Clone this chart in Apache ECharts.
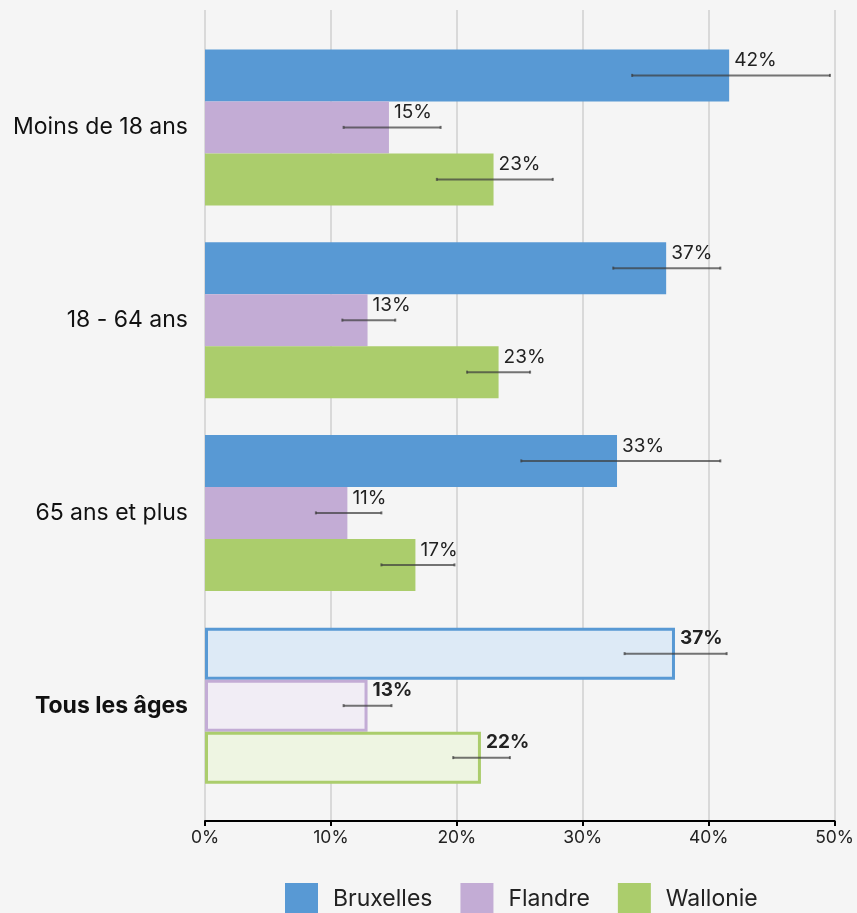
<!DOCTYPE html>
<html><head><meta charset="utf-8">
<script src="https://cdn.jsdelivr.net/npm/echarts@6/dist/echarts.min.js"></script>
<style>html,body{margin:0;padding:0;background:#f5f5f5}#c{width:857px;height:913px}</style>
</head><body><div id="c"></div>
<script>
const categories = ['Moins de 18 ans', '18 - 64 ans', '65 ans et plus', 'Tous les âges'];
const seriesNames = ['Bruxelles', 'Flandre', 'Wallonie'];
const bruxelles = [41.6, 36.6, 32.7, 37.3];
const flandre = [14.6, 12.9, 11.3, 12.9];
const wallonie = [22.9, 23.3, 16.7, 21.9];
const bruxellesLow = [33.9, 32.4, 25.1, 33.3];
const bruxellesHigh = [49.6, 40.9, 40.9, 41.4];
const flandreLow = [11.0, 10.9, 8.8, 11.0];
const flandreHigh = [18.7, 15.1, 14.0, 14.8];
const wallonieLow = [18.4, 20.8, 14.0, 19.7];
const wallonieHigh = [27.6, 25.8, 19.8, 24.2];
const xTicks = [0, 10, 20, 30, 40, 50];

const colors = ['#5899d4', '#c3acd5', '#abcd6c'];
const lightColors = ['#ddeaf6', '#f1edf5', '#eef5e2'];
const FONT = 'Inter';
const BAR = 52;

const values = [bruxelles, flandre, wallonie];
const lows = [bruxellesLow, flandreLow, wallonieLow];
const highs = [bruxellesHigh, flandreHigh, wallonieHigh];

function barSeries(si) {
  return {
    name: seriesNames[si], type: 'bar', xAxisIndex: 1, yAxisIndex: 1,
    barWidth: BAR, barGap: '0%', z: 2,
    itemStyle: { color: colors[si] },
    label: {
      show: true, position: 'right', distance: 5, offset: [0, -15],
      fontFamily: FONT, fontSize: 19, color: '#222',
      formatter: p => Math.round(p.value) + '%'
    },
    data: values[si].map((v, i) => i === categories.length - 1 ? {
      value: v,
      itemStyle: { color: lightColors[si], borderColor: colors[si], borderWidth: 3 },
      label: { fontWeight: 'bold' }
    } : v)
  };
}

function errSeries(si) {
  return {
    type: 'custom', xAxisIndex: 1, yAxisIndex: 1, z: 5, silent: true,
    data: categories.map((c, i) => [i, lows[si][i], highs[si][i]]),
    renderItem: function (params, api) {
      const cat = api.value(0);
      const p1 = api.coord([api.value(1), cat]);
      const p2 = api.coord([api.value(2), cat]);
      const y = p1[1] + (si - 1) * BAR;
      const st = { stroke: 'rgba(60,60,60,0.7)', lineWidth: 2 };
      return { type: 'group', children: [
        { type: 'line', shape: { x1: p1[0], y1: y, x2: p2[0], y2: y }, style: st },
        { type: 'line', shape: { x1: p1[0], y1: y - 1.5, x2: p1[0], y2: y + 1.5 }, style: st },
        { type: 'line', shape: { x1: p2[0], y1: y - 1.5, x2: p2[0], y2: y + 1.5 }, style: st }
      ]};
    }
  };
}

const chart = echarts.init(document.getElementById('c'));
chart.setOption({
  backgroundColor: '#f5f5f5',
  animation: false,
  textStyle: { fontFamily: FONT },
  legend: {
    top: 883, left: 285, itemWidth: 33, itemHeight: 33, itemGap: 28,
    icon: 'rect', padding: 0,
    textStyle: { fontFamily: FONT, fontSize: 23, color: '#222', padding: [0, 0, 0, 10] },
    data: seriesNames
  },
  grid: [
    { left: 205, right: 22, top: 10, bottom: 92 },
    { left: 205, right: 22, top: 31, bottom: 111 }
  ],
  xAxis: [
    { gridIndex: 0, type: 'value', min: xTicks[0], max: xTicks[xTicks.length - 1], interval: 10,
      axisLine: { show: true, lineStyle: { color: '#000', width: 2 } },
      axisTick: { show: true, length: 5, lineStyle: { color: '#000', width: 2 } },
      axisLabel: { fontFamily: FONT, fontSize: 17.5, color: '#222', margin: 8, formatter: '{value}%' },
      splitLine: { show: true, lineStyle: { color: '#d9d9d9', width: 2 } } },
    { gridIndex: 1, type: 'value', min: xTicks[0], max: xTicks[xTicks.length - 1], show: false,
      splitLine: { show: false } }
  ],
  yAxis: [
    { gridIndex: 0, type: 'value', show: false, splitLine: { show: false } },
    { gridIndex: 1, type: 'category', inverse: true, data: categories,
      axisLine: { show: false }, axisTick: { show: false },
      axisLabel: {
        margin: 17, fontFamily: FONT, fontSize: 23, color: '#111',
        formatter: (v, i) => i === categories.length - 1 ? '{b|' + v + '}' : v,
        rich: { b: { fontFamily: FONT, fontSize: 23, fontWeight: 'bold', color: '#111' } }
      } }
  ],
  series: [barSeries(0), barSeries(1), barSeries(2), errSeries(0), errSeries(1), errSeries(2)]
});
</script></body></html>
